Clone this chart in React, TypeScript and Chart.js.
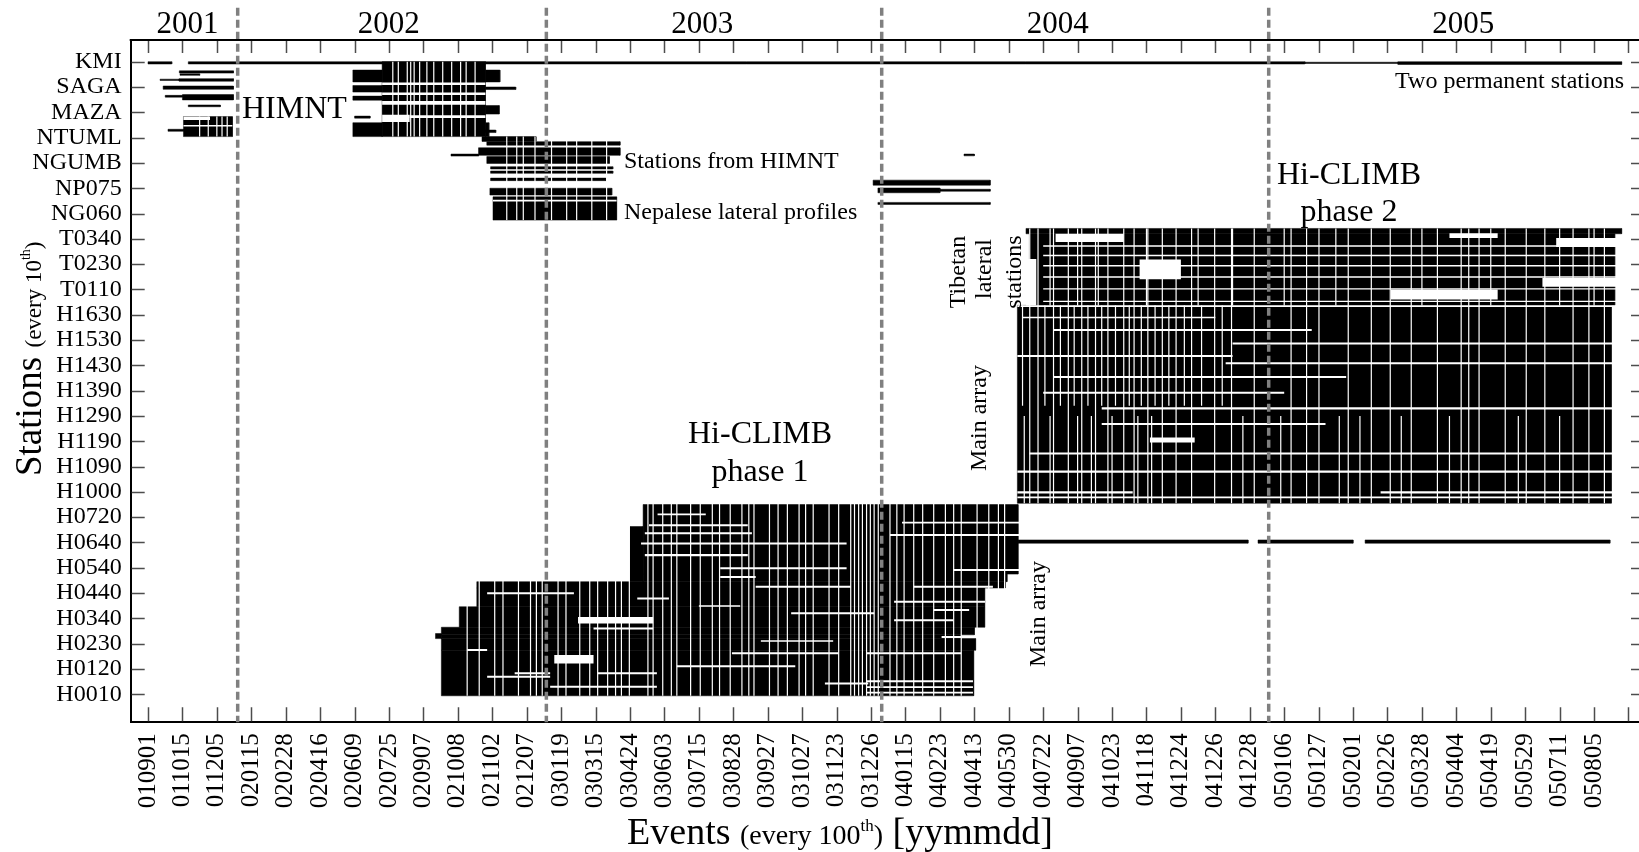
import React, { useEffect, useRef } from 'react';
import { Chart, registerables } from 'chart.js';

Chart.register(...registerables);

const WIDTH = 1639;
const HEIGHT = 852;
const SERIF = '"Liberation Serif", "Times New Roman", Times, serif';

// ---------- axis labels ----------
const eventLabels = ['010901', '011015', '011205', '020115', '020228', '020416', '020609', '020725', '020907', '021008', '021102', '021207', '030119', '030315', '030424', '030603', '030715', '030828', '030927', '031027', '031123', '031226', '040115', '040223', '040413', '040530', '040722', '040907', '041023', '041118', '041224', '041226', '041228', '050106', '050127', '050201', '050226', '050328', '050404', '050419', '050529', '050711', '050805'];
const eventTicks = [0, 100, 200, 300, 400, 500, 600, 700, 800, 900, 1000, 1100, 1200, 1300, 1400, 1500, 1600, 1700, 1800, 1900, 2000, 2100, 2200, 2300, 2400, 2500, 2600, 2700, 2800, 2900, 3000, 3100, 3200, 3300, 3400, 3500, 3600, 3700, 3800, 3900, 4000, 4100, 4200];
const extraEventTicks = [4300];

const stationLabels = ['KMI', 'SAGA', 'MAZA', 'NTUML', 'NGUMB', 'NP075', 'NG060', 'T0340', 'T0230', 'T0110', 'H1630', 'H1530', 'H1430', 'H1390', 'H1290', 'H1190', 'H1090', 'H1000', 'H0720', 'H0640', 'H0540', 'H0440', 'H0340', 'H0230', 'H0120', 'H0010'];
const stationTicks = [0, 10, 20, 30, 40, 50, 60, 70, 80, 90, 100, 110, 120, 130, 140, 150, 160, 170, 180, 190, 200, 210, 220, 230, 240, 250];

const yearLabels = ['2001', '2002', '2003', '2004', '2005'];
const yearCenters = [115, 699, 1610, 2642, 3820];
const yearBoundaries = [260.5, 1157, 2131, 3255];

// ---------- data records: [firstEvent, lastEvent, firstStation, lastStation] ----------
const permanentRecords = [
  [0, 69, 0, 0.9],
  [117, 3360, 0, 0.9],
  [3360, 3630, 0.2, 0.7],
  [3630, 4280, 0, 1.1],
];

const himnt2001Records = [
  [91, 248, 3.6, 4.5],
  [93, 150, 4.8, 5.4],
  [35, 90, 6.9, 7.4],
  [90, 248, 6.7, 7.7],
  [44, 248, 9.6, 10.9],
  [50, 100, 13.3, 14.0],
  [100, 248, 13.0, 15.1],
  [117, 210, 17.1, 17.8],
  [103, 245, 21.7, 29.6],
  [58, 103, 26.7, 27.5],
];

const himnt2002Records = [
  [680, 980, 0, 29.6],
  [595, 680, 3.3, 8.0],
  [980, 1022, 3.3, 8.0],
  [595, 680, 9.4, 12.0],
  [980, 1068, 10.0, 11.0],
  [595, 680, 13.6, 15.2],
  [980, 1020, 17.3, 20.7],
  [600, 645, 21.5, 22.3],
  [595, 680, 24.1, 29.6],
  [980, 990, 24.1, 29.6],
];

const nepalRecords = [
  [960, 1010, 27.0, 28.0],
  [970, 1127, 29.6, 31.5],
  [984, 1371, 31.6, 33.0],
  [880, 960, 36.5, 37.3],
  [960, 1371, 34.0, 37.0],
  [984, 1340, 37.5, 40.2],
  [995, 1350, 41.5, 42.4],
  [995, 1350, 43.2, 44.1],
  [995, 1330, 46.0, 47.0],
  [993, 1347, 50.0, 52.7],
  [1002, 1361, 53.4, 62.6],
];

const np075Records = [
  [2370, 2400, 36.5, 37.2],
  [2106, 2446, 46.8, 48.8],
  [2120, 2300, 49.9, 51.8],
  [2300, 2446, 50.4, 51.2],
  [2120, 2446, 55.6, 56.4],
];

const phase1Records = [
  [1438, 2527, 175.0, 202.5],
  [1400, 1438, 183.7, 205.5],
  [1438, 2495, 202.5, 205.5],
  [955, 2490, 205.5, 208.0],
  [955, 2430, 208.0, 215.4],
  [904, 2430, 215.4, 223.5],
  [852, 2400, 223.5, 226.5],
  [852, 2360, 226.5, 228.0],
  [835, 852, 226.0, 228.0],
  [852, 2404, 228.0, 232.6],
  [852, 2398, 232.6, 250.6],
];

const phase2Records = [
  [2550, 4280, 65.9, 68.0],
  [2560, 4260, 68.0, 96.3],
  [2525, 4250, 96.3, 174.5],
];

const h0640Records = [
  [2527, 3195, 189.0, 190.3],
  [3224, 3500, 189.0, 190.3],
  [3535, 4246, 189.0, 190.3],
];

// missing data inside the recorded blocks
const missingRecords = [
  [680, 980, 8.2, 9.2],
  [680, 980, 12.2, 13.2],
  [680, 980, 15.5, 17.0],
  [680, 760, 21.0, 23.8],
  [760, 980, 21.2, 22.2],
  [103, 180, 21.7, 23.0],
  [103, 245, 25.0, 25.6],
  [1002, 1361, 54.6, 55.2],
  [1455, 1742, 182.8, 183.6],
  [1443, 1754, 186.0, 186.8],
  [1432, 2029, 190.0, 190.8],
  [1443, 1742, 194.6, 195.4],
  [1662, 2029, 199.8, 200.6],
  [1662, 1765, 203.3, 204.0],
  [1765, 2041, 207.1, 207.9],
  [985, 1237, 209.7, 210.5],
  [1421, 1513, 211.7, 212.5],
  [1868, 2109, 217.6, 218.4],
  [1249, 1467, 219.5, 222.0],
  [1294, 1467, 223.6, 224.4],
  [927, 985, 232.1, 232.9],
  [1696, 2006, 233.4, 234.2],
  [1180, 1294, 234.5, 237.8],
  [1536, 1880, 238.5, 239.3],
  [1065, 1168, 241.3, 242.1],
  [1306, 1478, 241.3, 242.1],
  [985, 1168, 242.7, 243.5],
  [1966, 2092, 245.3, 246.1],
  [1168, 1478, 246.6, 247.4],
  [1480, 1620, 178.6, 179.2],
  [1780, 1990, 228.6, 229.2],
  [1600, 1720, 214.8, 215.4],
  [2190, 2530, 181.8, 182.5],
  [2155, 2530, 186.7, 187.4],
  [2339, 2530, 200.5, 201.3],
  [2224, 2454, 207.1, 207.9],
  [2167, 2431, 213.0, 213.8],
  [2282, 2385, 216.3, 217.1],
  [2167, 2339, 220.3, 221.1],
  [2305, 2362, 227.0, 227.8],
  [2087, 2362, 233.4, 234.2],
  [2087, 2396, 244.5, 245.2],
  [2087, 2396, 246.8, 247.5],
  [2087, 2396, 249.0, 249.7],
  [2636, 2834, 68.0, 71.3],
  [2880, 3000, 78.2, 86.0],
  [4090, 4300, 69.7, 73.2],
  [4050, 4300, 85.5, 88.9],
  [3610, 3920, 90.0, 94.0],
  [3780, 3920, 67.8, 69.7],
  [2550, 2580, 78.0, 96.3],
  [2600, 4280, 72.5, 73.1],
  [2600, 4280, 76.3, 76.9],
  [2600, 4280, 80.3, 80.9],
  [2600, 4280, 84.8, 85.4],
  [2600, 4280, 89.5, 90.0],
  [2600, 4280, 94.5, 95.0],
  [2525, 4300, 96.2, 96.9],
  [2540, 3100, 100.8, 101.4],
  [2630, 3380, 105.6, 106.4],
  [3150, 4260, 111.0, 111.8],
  [2525, 3150, 115.9, 116.7],
  [3130, 4260, 118.8, 119.6],
  [2630, 3480, 124.2, 125.0],
  [2600, 3300, 130.4, 131.2],
  [2770, 4260, 136.6, 137.4],
  [2770, 3420, 142.8, 143.6],
  [2910, 3040, 148.5, 150.5],
  [2560, 4260, 154.4, 155.2],
  [2525, 4260, 161.6, 162.4],
  [2525, 2860, 169.8, 170.6],
  [3580, 4260, 169.8, 170.6],
  [2525, 4260, 171.8, 172.5],
];

// events missing at all stations of a deployment (thin white columns)
const himnt2001Gaps = [150, 175, 200, 215, 230];
const himnt2002Gaps = [711, 727, 753, 763, 773, 789, 810, 830, 856, 882, 908, 924, 950];
const nepalGaps = [1042, 1071, 1090, 1124, 1172, 1216, 1245, 1289, 1332];
const phase1Gaps = [927, 962, 1007, 1031, 1076, 1111, 1128, 1145, 1191, 1214, 1254, 1283, 1306, 1335, 1358, 1375, 1398, 1452, 1467, 1495, 1520, 1536, 1576, 1604, 1639, 1660, 1691, 1725, 1745, 1760, 1805, 1830, 1857, 1891, 1910, 1932, 1978, 2006, 2041, 2052, 2064, 2075, 2087, 2098, 2109, 2121, 2155, 2175, 2196, 2224, 2250, 2282, 2316, 2340, 2362, 2408, 2442, 2470, 2488];
const tibetanGaps = [2620, 2700, 2760, 2900, 3050, 3150, 3300, 3450, 3700, 3900, 4100, 4200];
const phase2Gaps = [2561, 2585, 2630, 2673, 2712, 2752, 2788, 2834, 2864, 2904, 2946, 2986, 3031, 3098, 3147, 3213, 3320, 3365, 3401, 3486, 3553, 3608, 3669, 3745, 3814, 3836, 3866, 3942, 4003, 4057, 4139, 4185, 4230];
const phase2UpperGaps = [2540, 2605, 2650, 2690, 2730, 2770, 2810, 2850, 2885, 2925, 2965, 3010, 3060, 3120];
const phase2LowerGaps = [2545, 2620, 2700, 2740, 2800, 2875, 2915, 3180, 3290, 3460, 3520, 3640, 3780, 3980, 4100];

// ---------- helpers ----------
type Rect = number[];
type Pt = { x: number | null; y: number | null };

function rectPoints(rects: Rect[]): Pt[] {
  const pts: Pt[] = [];
  for (const [x0, x1, y0, y1] of rects) {
    pts.push({ x: x0, y: y0 }, { x: x1, y: y0 }, { x: x1, y: y1 }, { x: x0, y: y1 }, { x: x0, y: y0 }, { x: null, y: null });
  }
  return pts;
}

function vlinePoints(xs: number[], y0: number, y1: number): Pt[] {
  const pts: Pt[] = [];
  for (const x of xs) {
    pts.push({ x, y: y0 }, { x, y: y1 }, { x: null, y: null });
  }
  return pts;
}

function shapeDataset(label: string, rects: Rect[], color: string, border: number, order: number) {
  return {
    label,
    data: rectPoints(rects),
    backgroundColor: color,
    borderColor: color,
    borderWidth: border,
    pointRadius: 0,
    pointHoverRadius: 0,
    fill: 'shape',
    spanGaps: false,
    order,
  };
}

function gapDataset(label: string, xs: number[], y0: number, y1: number) {
  return {
    label,
    data: vlinePoints(xs, y0, y1),
    borderColor: '#ffffff',
    borderWidth: 1.2,
    pointRadius: 0,
    pointHoverRadius: 0,
    fill: false,
    spanGaps: false,
    order: 1,
  };
}

type Piece = { text: string; size: number; rise?: number };

function piecesWidth(ctx: CanvasRenderingContext2D, pieces: Piece[]) {
  let w = 0;
  for (const p of pieces) {
    ctx.font = `${p.size}px ${SERIF}`;
    w += ctx.measureText(p.text).width;
  }
  return w;
}

function drawPieces(ctx: CanvasRenderingContext2D, pieces: Piece[], startX: number, baseY: number) {
  let cx = startX;
  ctx.textAlign = 'left';
  ctx.textBaseline = 'alphabetic';
  for (const p of pieces) {
    ctx.font = `${p.size}px ${SERIF}`;
    ctx.fillText(p.text, cx, baseY - (p.rise || 0));
    cx += ctx.measureText(p.text).width;
  }
}

const xTitlePieces: Piece[] = [
  { text: 'Events ', size: 38 },
  { text: '(every 100', size: 28 },
  { text: 'th', size: 17, rise: 13 },
  { text: ')', size: 28 },
  { text: ' [yymmdd]', size: 38 },
];
const yTitlePieces: Piece[] = [
  { text: 'Stations ', size: 37 },
  { text: '(every 10', size: 23 },
  { text: 'th', size: 14, rise: 11 },
  { text: ')', size: 23 },
];

const annotations = [
  { text: 'HIMNT', x: 242, y: 118, size: 32, align: 'left' },
  { text: 'Two permanent stations', x: 1624, y: 87.5, size: 24, align: 'right' },
  { text: 'Stations from HIMNT', x: 624, y: 168, size: 24, align: 'left' },
  { text: 'Nepalese lateral profiles', x: 624, y: 219, size: 24, align: 'left' },
  { text: 'Hi-CLIMB', x: 1349, y: 183.5, size: 32, align: 'center' },
  { text: 'phase 2', x: 1349, y: 221, size: 32, align: 'center' },
  { text: 'Hi-CLIMB', x: 760, y: 443, size: 32, align: 'center' },
  { text: 'phase 1', x: 760, y: 480.5, size: 32, align: 'center' },
];
const rotatedAnnotations = [
  { text: 'Tibetan', x: 965, y: 272, size: 24 },
  { text: 'lateral', x: 991, y: 269, size: 24 },
  { text: 'stations', x: 1021, y: 272, size: 24 },
  { text: 'Main array', x: 986, y: 418, size: 24 },
  { text: 'Main array', x: 1045, y: 614, size: 24 },
];

const decorPlugin = {
  id: 'decor',
  afterDraw(chart: any) {
    const { ctx, chartArea: a } = chart;
    const xs = chart.scales.x;
    const ys = chart.scales.y;
    ctx.save();
    // top frame line
    ctx.strokeStyle = '#000';
    ctx.lineWidth = 2;
    ctx.beginPath();
    ctx.moveTo(a.left - 1, a.top);
    ctx.lineTo(a.right, a.top);
    ctx.stroke();
    // inward ticks
    ctx.strokeStyle = '#4d4d4d';
    ctx.lineWidth = 1.5;
    ctx.beginPath();
    for (const v of [...eventTicks, ...extraEventTicks]) {
      const px = Math.round(xs.getPixelForValue(v)) + 0.5;
      ctx.moveTo(px, a.bottom - 1);
      ctx.lineTo(px, a.bottom - 15);
      ctx.moveTo(px, a.top + 1);
      ctx.lineTo(px, a.top + 13);
    }
    for (const v of stationTicks) {
      const py = Math.round(ys.getPixelForValue(v)) + 0.5;
      ctx.moveTo(a.left + 1, py);
      ctx.lineTo(a.left + 14, py);
      ctx.moveTo(a.right, py);
      ctx.lineTo(a.right - 8, py);
    }
    ctx.stroke();

    ctx.fillStyle = '#000';
    // year labels
    ctx.font = `31px ${SERIF}`;
    ctx.textAlign = 'center';
    ctx.textBaseline = 'alphabetic';
    yearLabels.forEach((lab, i) => {
      ctx.fillText(lab, xs.getPixelForValue(yearCenters[i]), 33);
    });
    // annotations
    for (const an of annotations) {
      ctx.font = `${an.size}px ${SERIF}`;
      ctx.textAlign = an.align;
      ctx.fillText(an.text, an.x, an.y);
    }
    for (const an of rotatedAnnotations) {
      ctx.save();
      ctx.translate(an.x, an.y);
      ctx.rotate(-Math.PI / 2);
      ctx.font = `${an.size}px ${SERIF}`;
      ctx.textAlign = 'center';
      ctx.fillText(an.text, 0, 0);
      ctx.restore();
    }
    // axis titles
    const xw = piecesWidth(ctx, xTitlePieces);
    drawPieces(ctx, xTitlePieces, 840 - xw / 2, 844);
    ctx.save();
    ctx.translate(41, 476);
    ctx.rotate(-Math.PI / 2);
    drawPieces(ctx, yTitlePieces, 0, 0);
    ctx.restore();
    ctx.restore();
  },
};

export default function App() {
  const ref = useRef<HTMLCanvasElement>(null);
  useEffect(() => {
    document.body.style.margin = '0';
    const canvas = ref.current;
    if (!canvas) return;
    const yearLines: Pt[] = [];
    for (const b of yearBoundaries) {
      yearLines.push({ x: b, y: -21.3 }, { x: b, y: 261.07 }, { x: null, y: null });
    }
    const chart = new Chart(canvas, {
      type: 'line',
      data: {
        datasets: [
          {
            label: 'years',
            data: yearLines,
            borderColor: '#808080',
            borderWidth: 3.5,
            borderDash: [8, 4],
            pointRadius: 0,
            fill: false,
            spanGaps: false,
            clip: false,
            order: 0,
          } as any,
          gapDataset('gaps2001', himnt2001Gaps, 21.7, 29.6),
          gapDataset('gaps2002', himnt2002Gaps, 0, 29.6),
          gapDataset('gapsNepal', nepalGaps, 29.6, 62.6),
          gapDataset('gapsP1', phase1Gaps, 174.8, 250.6),
          gapDataset('gapsTib', tibetanGaps, 65.9, 96.3),
          gapDataset('gapsP2', phase2Gaps, 65.9, 174.5),
          gapDataset('gapsP2up', phase2UpperGaps, 96.3, 136),
          gapDataset('gapsP2low', phase2LowerGaps, 140, 174.5),
          shapeDataset('missing', missingRecords, '#ffffff', 0, 2),
          shapeDataset('permanent', permanentRecords, '#000000', 0.5, 3),
          shapeDataset('himnt2001', himnt2001Records, '#000000', 0.5, 3),
          shapeDataset('himnt2002', himnt2002Records, '#000000', 0.5, 3),
          shapeDataset('nepal', nepalRecords, '#000000', 0.5, 3),
          shapeDataset('np075', np075Records, '#000000', 0.5, 3),
          shapeDataset('phase1', phase1Records, '#000000', 0.5, 3),
          shapeDataset('phase2', phase2Records, '#000000', 0.5, 3),
          shapeDataset('h0640', h0640Records, '#000000', 0.5, 3),
        ] as any,
      },
      options: {
        animation: false,
        responsive: false,
        devicePixelRatio: 1,
        events: [],
        layout: { padding: { top: 40, right: 0, left: 0, bottom: 0 } },
        plugins: {
          legend: { display: false },
          tooltip: { enabled: false },
          title: { display: false },
        },
        scales: {
          x: {
            type: 'linear',
            position: 'bottom',
            min: -50.25,
            max: 4330.5,
            afterBuildTicks: (s: any) => {
              s.ticks = eventTicks.map((v) => ({ value: v }));
            },
            afterFit: (s: any) => {
              s.height = 129.7;
            },
            ticks: {
              autoSkip: false,
              minRotation: 90,
              maxRotation: 90,
              padding: 11,
              color: '#000',
              font: { family: SERIF, size: 25 },
              callback: (v: any) => {
                const i = eventTicks.indexOf(Number(v));
                return i >= 0 ? eventLabels[i] : '';
              },
            },
            grid: { display: false, drawTicks: false },
            border: { display: true, color: '#000', width: 2 },
          },
          y: {
            type: 'linear',
            reverse: true,
            min: -8.58,
            max: 261.07,
            afterBuildTicks: (s: any) => {
              s.ticks = stationTicks.map((v) => ({ value: v }));
            },
            afterFit: (s: any) => {
              s.width = 130.7;
            },
            ticks: {
              autoSkip: false,
              padding: 9,
              color: '#000',
              font: { family: SERIF, size: 24 },
              callback: (v: any) => {
                const i = stationTicks.indexOf(Number(v));
                return i >= 0 ? stationLabels[i] : '';
              },
            },
            grid: { display: false, drawTicks: false },
            border: { display: true, color: '#000', width: 2 },
          },
        },
      } as any,
      plugins: [decorPlugin],
    });
    return () => chart.destroy();
  }, []);
  return (
    <div style={{ width: WIDTH, height: HEIGHT, background: '#fff', overflow: 'hidden' }}>
      <canvas ref={ref} width={WIDTH} height={HEIGHT} style={{ display: 'block', width: WIDTH, height: HEIGHT }} />
    </div>
  );
}
